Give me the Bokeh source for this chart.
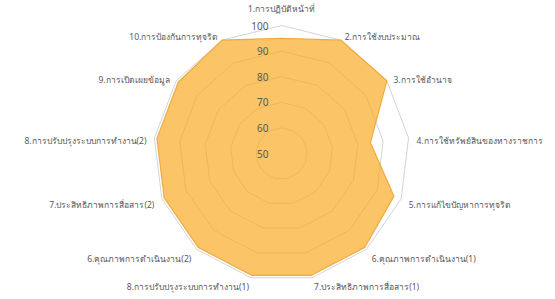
import numpy as np
from bokeh.plotting import figure
from bokeh.models import Range1d, ColumnDataSource
from bokeh.embed import file_html
from bokeh.resources import INLINE
from bokeh.core.properties import value

categories = [
    "1.การปฏิบัติหน้าที่",
    "2.การใช้งบประมาณ",
    "3.การใช้อำนาจ",
    "4.การใช้ทรัพย์สินของทางราชการ",
    "5.การแก้ไขปัญหาการทุจริต",
    "6.คุณภาพการดำเนินงาน(1)",
    "7.ประสิทธิภาพการสื่อสาร(1)",
    "8.การปรับปรุงระบบการทำงาน(1)",
    "6.คุณภาพการดำเนินงาน(2)",
    "7.ประสิทธิภาพการสื่อสาร(2)",
    "8.การปรับปรุงระบบการทำงาน(2)",
    "9.การเปิดเผยข้อมูล",
    "10.การป้องกันการทุจริต",
]
scores = [95, 100, 100, 85, 97, 99, 99, 99, 99, 99, 99, 99, 100]
tick_values = [50, 60, 70, 80, 90, 100]
tick_labels = ["50", "60", "70", "80", "90", "100"]

r_min, r_max = 50, 100
W, H = 547, 297
ppu = 128.0 / (r_max - r_min)      # pixels per value unit
cx_px, cy_px = 281, 153            # centre inside the frame

FONT = "Noto Sans"

p = figure(width=W, height=H, output_backend="svg", toolbar_location=None,
           x_range=Range1d(-cx_px / ppu, (W - cx_px) / ppu),
           y_range=Range1d(-(H - cy_px) / ppu, cy_px / ppu),
           min_border=0, outline_line_color=None)
p.axis.visible = False
p.grid.visible = False
p.background_fill_color = "white"
p.border_fill_color = "white"

n = len(categories)
ang = np.arange(n) * 2 * np.pi / n   # clockwise from top


def to_xy(vals):
    r = np.asarray(vals, dtype=float) - r_min
    return r * np.sin(ang), r * np.cos(ang)


# rings
ring_xs, ring_ys = [], []
for tv in tick_values[1:]:
    x, y = to_xy([tv] * n)
    ring_xs.append(list(x) + [x[0]])
    ring_ys.append(list(y) + [y[0]])
p.multi_line(ring_xs, ring_ys, line_color="#D4D4D4", line_width=1)

# data polygon
sx, sy = to_xy(scores)
p.patch(list(sx), list(sy), fill_color="#F9A81E", fill_alpha=0.68,
        line_color="#F0AA40", line_width=1.2)

# value axis labels
tsrc = ColumnDataSource(dict(x=[0.0] * len(tick_values),
                             y=[v - r_min for v in tick_values],
                             t=tick_labels))
p.text(x="x", y="y", text="t", source=tsrc, x_offset=-13,
       text_align="right", text_baseline="middle",
       text_font=value(FONT), text_font_size="10px", text_color="#595959")

# category labels
gap = 8.0 / ppu
lr = (r_max - r_min) + gap
lx = lr * np.sin(ang)
ly = lr * np.cos(ang)
aligns, bases, yoff = [], [], []
for a in ang:
    s = np.sin(a)
    c = np.cos(a)
    if abs(s) < 0.1:
        aligns.append("center")
        bases.append("bottom" if c > 0 else "top")
        yoff.append(-4 if c > 0 else 0)
    else:
        aligns.append("left" if s > 0 else "right")
        bases.append("middle")
        yoff.append(3 if c > -0.9 else 1)
csrc = ColumnDataSource(dict(x=list(lx), y=list(ly), t=categories,
                             a=aligns, b=bases, yo=yoff))
p.text(x="x", y="y", text="t", source=csrc, text_align="a",
       text_baseline="b", y_offset="yo",
       text_font=value(FONT), text_font_size="8.5px", text_color="#595959")

open("out.html", "w").write(file_html(p, INLINE))
